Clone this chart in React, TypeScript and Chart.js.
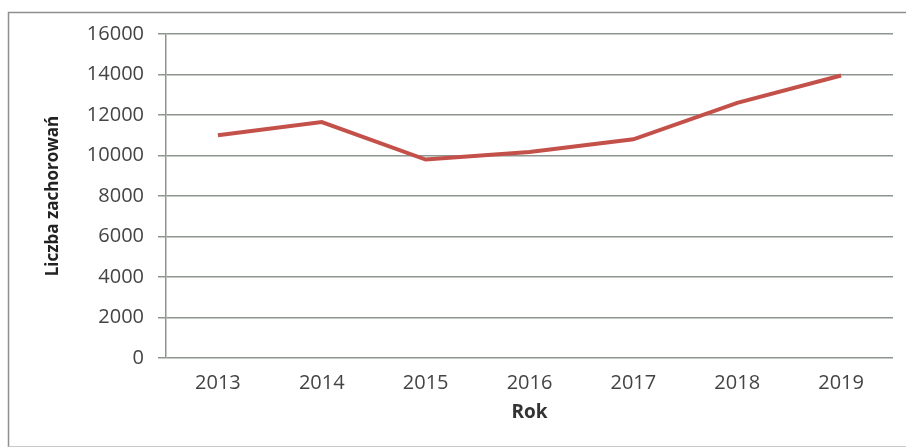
import React, { useEffect, useRef } from "react";
import { Chart, registerables } from "chart.js";

Chart.register(...registerables);

const years = ["2013", "2014", "2015", "2016", "2017", "2018", "2019"];
const cases = [11000, 11650, 9800, 10170, 10800, 12600, 13950];
const yMin = 0;
const yMax = 16000;
const yStep = 2000;
const yTitle = "Liczba zachorowań";
const xTitle = "Rok";

const W = 906;
const H = 447;

const framePlugin = {
  id: "frame",
  beforeDraw(chart: any) {
    const ctx = chart.ctx;
    ctx.save();
    ctx.fillStyle = "#ffffff";
    ctx.fillRect(0, 0, chart.width, chart.height);
    ctx.strokeStyle = "#8f8f8f";
    ctx.lineWidth = 1.5;
    ctx.beginPath();
    ctx.moveTo(906, 12.5);
    ctx.lineTo(8.5, 12.5);
    ctx.lineTo(8.5, 447);
    ctx.stroke();
    ctx.strokeStyle = "#c8c8c8";
    ctx.lineWidth = 1;
    ctx.beginPath();
    ctx.moveTo(8.5, 446.5);
    ctx.lineTo(906, 446.5);
    ctx.stroke();
    ctx.restore();
  },
};

export default function App() {
  const ref = useRef<HTMLCanvasElement | null>(null);
  useEffect(() => {
    if (!ref.current) return;
    const gridColor = "#8e948e";
    const chart = new Chart(ref.current, {
      type: "line",
      data: {
        labels: years,
        datasets: [
          {
            data: cases,
            borderColor: "#c4504a",
            borderWidth: 4,
            pointRadius: 0,
            tension: 0,
            fill: false,
          },
        ],
      },
      options: {
        responsive: false,
        animation: false,
        layout: { padding: { left: 43, right: 13, top: 34, bottom: 23 } },
        plugins: { legend: { display: false }, tooltip: { enabled: false } },
        scales: {
          x: {
            offset: true,
            grid: { display: false, drawTicks: false },
            border: { display: false },
            ticks: {
              color: "#444444",
              font: { family: "'Open Sans'", size: 20 },
              padding: 13,
              maxRotation: 0,
            },
            title: {
              display: true,
              text: xTitle,
              color: "#333333",
              font: { family: "'Open Sans'", size: 19, weight: "bold" },
              padding: 0,
            },
            afterFit(scale: any) {
              scale.height = 66;
            },
          },
          y: {
            min: yMin,
            max: yMax,
            ticks: {
              stepSize: yStep,
              color: "#444444",
              font: { family: "'Open Sans'", size: 20 },
              padding: 14,
              callback: (v: any) => String(v),
            },
            grid: {
              color: gridColor,
              lineWidth: 1.5,
              tickLength: 8,
              drawTicks: true,
            },
            border: { display: true, color: gridColor, width: 1.5 },
            title: {
              display: true,
              text: yTitle,
              color: "#222222",
              font: { family: "'Open Sans'", size: 17, weight: "bold" },
              padding: 0,
            },
            afterFit(scale: any) {
              scale.width = 123;
            },
          },
        },
      },
      plugins: [framePlugin],
    });
    return () => chart.destroy();
  }, []);
  return (
    <div style={{ position: "fixed", left: 0, top: 0, width: W, height: H }}>
      <canvas ref={ref} width={W} height={H} style={{ display: "block" }} />
    </div>
  );
}
